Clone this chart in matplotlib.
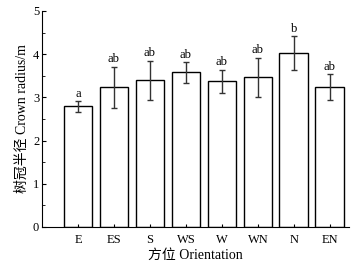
import matplotlib
matplotlib.use('Agg')
import matplotlib.pyplot as plt
from matplotlib.ticker import MultipleLocator

plt.rcParams['font.family'] = ['Liberation Serif', 'Noto Sans CJK SC']

# crown radius by orientation
orient = ['E', 'ES', 'S', 'WS', 'W', 'WN', 'N', 'EN']
radius = [2.79, 3.23, 3.40, 3.58, 3.37, 3.47, 4.02, 3.24]
err = [0.13, 0.48, 0.45, 0.24, 0.27, 0.45, 0.39, 0.30]
letters = ['a', 'ab', 'ab', 'ab', 'ab', 'ab', 'b', 'ab']

fig = plt.figure(figsize=(3.59, 2.68), dpi=100)
ax = fig.add_axes([0.117, 0.153, 0.855, 0.806])

x = list(range(1, len(orient) + 1))
ax.bar(x, radius, width=0.8, color='white', edgecolor='black', linewidth=1.0)
ax.errorbar(x, radius, yerr=err, fmt='none', ecolor='#333333', elinewidth=1.0,
            capsize=2.5, capthick=1.0)
for xi, v, e, t in zip(x, radius, err, letters):
    ax.text(xi, v + e + 0.03, t, ha='center', va='bottom', fontsize=9)

ax.set_xlim(0, 8.53)
ax.set_ylim(0, 5)
ax.set_xticks(x)
ax.set_xticklabels(orient, fontsize=9)
ax.yaxis.set_major_locator(MultipleLocator(1))
ax.yaxis.set_minor_locator(MultipleLocator(0.5))
ax.tick_params(axis='y', labelsize=9, direction='in', length=3, pad=2)
ax.tick_params(axis='y', which='minor', direction='in', length=2)
ax.tick_params(axis='x', direction='in', length=2, pad=5)
ax.spines['top'].set_visible(False)
ax.spines['right'].set_visible(False)
ax.set_xlabel('方位 Orientation', fontsize=10, labelpad=2)
ax.set_ylabel('树冠半径 Crown radius/m', fontsize=10, labelpad=3)

fig.savefig('out.png', dpi=100)
